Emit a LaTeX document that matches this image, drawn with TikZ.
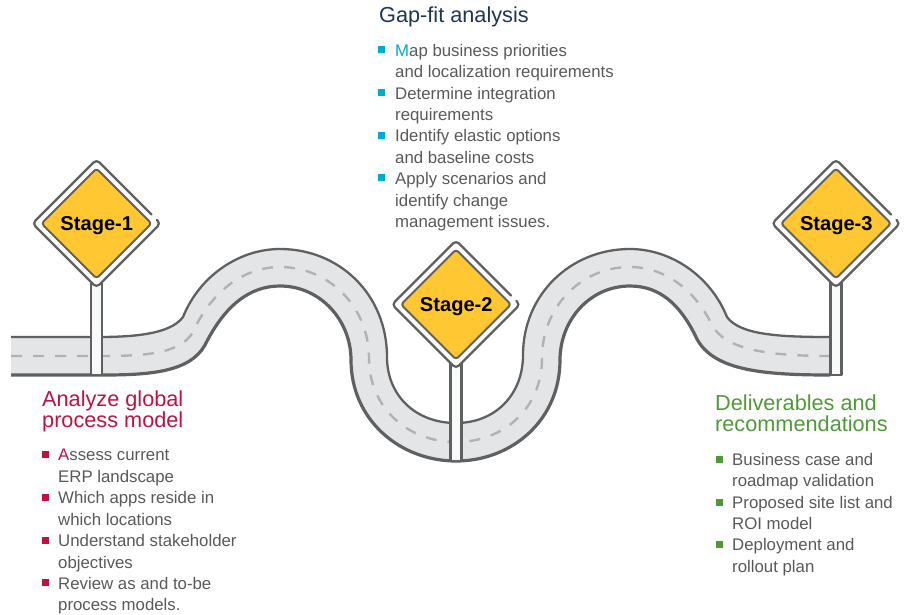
\documentclass[tikz,border=0pt]{standalone}
\usepackage{fontspec}
\setmainfont{Liberation Sans}
\definecolor{roadfill}{HTML}{E4E5E7}
\definecolor{roadedge}{HTML}{5F6062}
\definecolor{roaddash}{HTML}{B0B2B4}
\definecolor{signyellow}{HTML}{FFC832}
\definecolor{postfill}{HTML}{F8F9F9}
\definecolor{bodytext}{HTML}{58595B}
\definecolor{navyhead}{HTML}{1D3557}
\definecolor{redhead}{HTML}{BE1240}
\definecolor{greenhead}{HTML}{4F9A38}
\definecolor{cyanmark}{HTML}{00A9D6}
\tikzset{
  x=1pt,y=-1pt,
  bodyline/.style={anchor=base west,inner sep=0pt,text=bodytext,font=\fontsize{16.8}{20}\selectfont},
  headline/.style={anchor=base west,inner sep=0pt,font=\fontsize{21.7}{24}\selectfont},
  bullet/.style={fill=#1,draw=none,minimum size=7pt,inner sep=0pt,anchor=center},
  signlabel/.style={inner sep=0pt,text=black,font=\fontsize{20.1}{22}\selectfont\bfseries},
  edgeline/.style={draw=roadedge,line join=round},
  signrim/.style={draw=roadedge,line width=2.2pt,line cap=round},
}
\newcommand{\signpost}[6]{% name, cx, cy, half, postbottom, label
  \begin{scope}[shift={(#2,#3)}]
    \draw[edgeline,fill=postfill,line width=2.6pt] (-5.5,50) rectangle (5.5,#5-#3);
    \fill[white,rounded corners=4pt] (0,-#4) -- (#4,0) -- (0,#4) -- (-#4,0) -- cycle;
    \draw[signrim,rounded corners=4pt] (#4-9,-9) -- (0,-#4) -- (-#4,0) -- (0,#4) -- (#4,0) -- (#4-3.5,-3.5);
    \draw[edgeline,fill=signyellow,line width=2pt,rounded corners=3pt] (0,9-#4) -- (#4-9,0) -- (0,#4-9) -- (9-#4,0) -- cycle;
    \node[signlabel] (#1) at (0.3,2) {#6};
  \end{scope}
}
\newcommand{\bodyrow}[4]{\node[bodyline] (#1) at (#2,#3+6.2) {#4};}
\newcommand{\headrow}[5]{\node[headline,text=#5] (#1) at (#2,#3+7.4) {#4};}
\begin{document}
\begin{tikzpicture}
\useasboundingbox (0,0) rectangle (906,614);
% road
\fill[roadfill] (11,337) -- (97,337) .. controls (130,337) and (170,335) .. (183,317)
  .. controls (200,275) and (240,249) .. (280,249)
  .. controls (340,249) and (387,295) .. (387,357)
  .. controls (387,395) and (415,423) .. (456,423)
  .. controls (495,423) and (523,395) .. (523,355)
  .. controls (523,295) and (570,249) .. (630,249)
  .. controls (670,249) and (710,275) .. (727,317)
  .. controls (740,335) and (780,337) .. (830,337)
  -- (830,375)
  .. controls (760,375) and (710,370) .. (695,335)
  .. controls (680,305) and (660,286) .. (630,286)
  .. controls (590,286) and (560,320) .. (560,360)
  .. controls (560,420) and (512,461) .. (456,461)
  .. controls (400,461) and (351,420) .. (351,360)
  .. controls (351,320) and (320,286) .. (280,286)
  .. controls (250,286) and (225,305) .. (205,345)
  .. controls (190,372) and (150,375) .. (103,375)
  -- (11,375) -- cycle;
\draw[edgeline,line width=2.3pt] (11,337) -- (97,337) .. controls (130,337) and (170,335) .. (183,317)
  .. controls (200,275) and (240,249) .. (280,249)
  .. controls (340,249) and (387,295) .. (387,357)
  .. controls (387,395) and (415,423) .. (456,423)
  .. controls (495,423) and (523,395) .. (523,355)
  .. controls (523,295) and (570,249) .. (630,249)
  .. controls (670,249) and (710,275) .. (727,317)
  .. controls (740,335) and (780,337) .. (830,337);
\draw[edgeline,line width=3.2pt] (11,375) -- (103,375)
  .. controls (150,375) and (190,372) .. (205,345)
  .. controls (225,305) and (250,286) .. (280,286)
  .. controls (320,286) and (351,320) .. (351,360)
  .. controls (351,420) and (400,461) .. (456,461)
  .. controls (512,461) and (560,420) .. (560,360)
  .. controls (560,320) and (590,286) .. (630,286)
  .. controls (660,286) and (680,305) .. (695,335)
  .. controls (710,370) and (760,375) .. (830,375);
\draw[roaddash,line width=2.4pt,dash pattern=on 11pt off 11pt] (11,356) -- (100,356)
  .. controls (140,356) and (180,355) .. (193,332)
  .. controls (212,290) and (245,267) .. (280,267)
  .. controls (330,267) and (369,308) .. (369,358)
  .. controls (369,408) and (408,442) .. (456,442)
  .. controls (504,442) and (542,408) .. (542,358)
  .. controls (542,308) and (580,267) .. (630,267)
  .. controls (665,267) and (695,290) .. (712,325)
  .. controls (725,350) and (770,356) .. (830,356);
% signs
\signpost{stageone}{96.5}{223.5}{64}{375}{Stage-1}
\signpost{stagetwo}{456}{304.5}{64}{461}{Stage-2}
\signpost{stagethree}{836}{223.5}{64}{375}{Stage-3}
% centre block
\headrow{gaphead}{379}{15}{Gap-fit analysis}{navyhead}
\node[bullet=cyanmark] (gapa) at (381.5,49.5) {};
\bodyrow{gap1}{395}{50}{\textcolor{cyanmark}{M}ap business priorities}
\bodyrow{gap2}{395}{71}{and localization requirements}
\node[bullet=cyanmark] (gapb) at (381.5,92) {};
\bodyrow{gap3}{395}{93}{Determine integration}
\bodyrow{gap4}{395}{114}{requirements}
\node[bullet=cyanmark] (gapc) at (381.5,135) {};
\bodyrow{gap5}{395}{135}{Identify elastic options}
\bodyrow{gap6}{395}{157}{and baseline costs}
\node[bullet=cyanmark] (gapd) at (381.5,177.5) {};
\bodyrow{gap7}{395}{178}{Apply scenarios and}
\bodyrow{gap8}{395}{200}{identify change}
\bodyrow{gap9}{395}{221}{management issues.}
% left block
\headrow{lefthead1}{42}{399}{Analyze global}{redhead}
\headrow{lefthead2}{42}{420}{process model}{redhead}
\node[bullet=redhead] (lefta) at (45.5,454.5) {};
\bodyrow{left1}{58}{454}{\textcolor{redhead}{A}ssess current}
\bodyrow{left2}{58}{476}{ERP landscape}
\node[bullet=redhead] (leftb) at (45.5,497) {};
\bodyrow{left3}{58}{497}{Which apps reside in}
\bodyrow{left4}{58}{519}{which locations}
\node[bullet=redhead] (leftc) at (45.5,540) {};
\bodyrow{left5}{58}{540}{Understand stakeholder}
\bodyrow{left6}{58}{562}{objectives}
\node[bullet=redhead] (leftd) at (45.5,582.5) {};
\bodyrow{left7}{58}{583}{Review as and to-be}
\bodyrow{left8}{58}{604}{process models.}
% right block
\headrow{righthead1}{715}{403}{Deliverables and}{greenhead}
\headrow{righthead2}{715}{424}{recommendations}{greenhead}
\node[bullet=greenhead] (righta) at (719,459) {};
\bodyrow{right1}{732}{459}{Business case and}
\bodyrow{right2}{732}{480}{roadmap validation}
\node[bullet=greenhead] (rightb) at (719,502) {};
\bodyrow{right3}{732}{502}{Proposed site list and}
\bodyrow{right4}{732}{523}{ROI model}
\node[bullet=greenhead] (rightc) at (719,544) {};
\bodyrow{right5}{732}{544}{Deployment and}
\bodyrow{right6}{732}{566}{rollout plan}
\end{tikzpicture}
\end{document}
